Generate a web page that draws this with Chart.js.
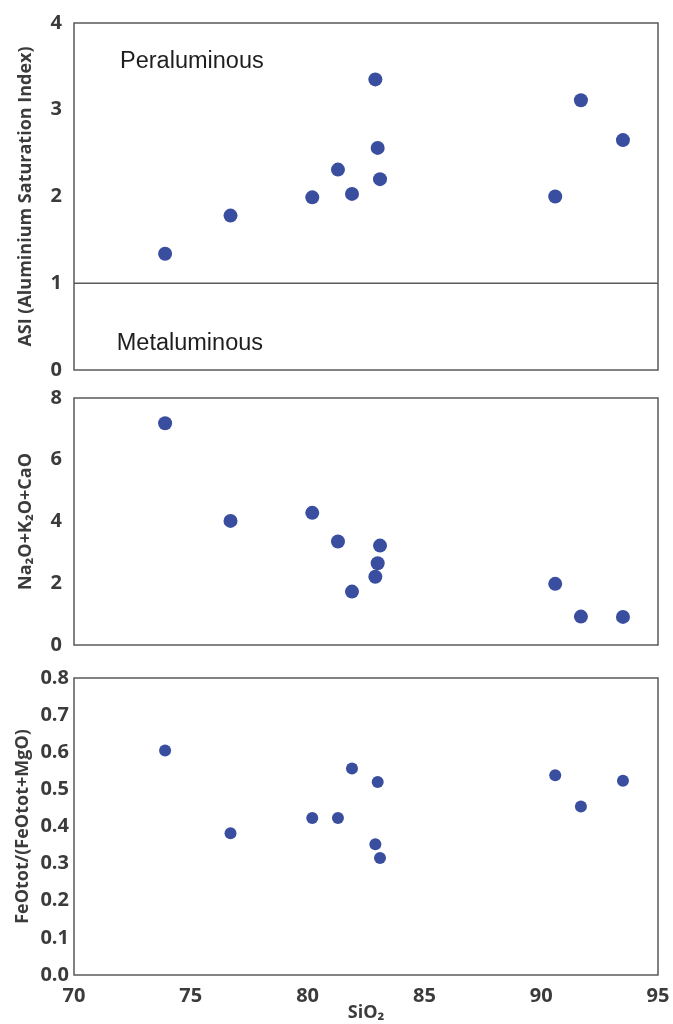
<!DOCTYPE html>
<html>
<head>
<meta charset="utf-8">
<script src="https://cdn.jsdelivr.net/npm/chart.js@4.4.1/dist/chart.umd.min.js"></script>
<style>
  html, body { margin: 0; padding: 0; background: #ffffff; }
  body { width: 673px; height: 1024px; position: relative; overflow: hidden; }
  canvas { position: absolute; left: 0; }
</style>
</head>
<body>
<canvas id="c1" width="673" height="380" style="top:0px"></canvas>
<canvas id="c2" width="673" height="275" style="top:380px"></canvas>
<canvas id="c3" width="673" height="369" style="top:655px"></canvas>
<script>
// ---- Data ----
const sio2 = [73.9, 76.7, 80.2, 81.3, 81.9, 82.9, 83.0, 83.1, 90.6, 91.7, 93.5];
const asi = [1.34, 1.78, 1.99, 2.31, 2.03, 3.35, 2.56, 2.20, 2.00, 3.11, 2.65];
const alkCa = [7.18, 4.02, 4.28, 3.35, 1.73, 2.21, 2.65, 3.22, 1.98, 0.92, 0.91];
const feRatio = [0.605, 0.382, 0.423, 0.423, 0.556, 0.352, 0.520, 0.315, 0.538, 0.454, 0.523];
const xRange = [70, 95];
const asiTicks = [0, 4, 1];
const alkTicks = [0, 8, 2];
const feTicks = [0, 0.8, 0.1];
const asiBoundary = 1;
const regionLabels = [
  { text: 'Peraluminous', x: 71.97, y: 3.48 },
  { text: 'Metaluminous', x: 71.83, y: 0.23 }
];
const yTitles = ['ASI (Aluminium Saturation Index)', 'Na\u2082O+K\u2082O+CaO', 'FeOtot/(FeOtot+MgO)'];
const xTitle = 'SiO\u2082';

// ---- Styling ----
const dotColor = '#3A4E9F';
const textColor = '#3b3b3b';
const boxColor = '#5a5a5a';
const tickFont = { family: "'Open Sans', sans-serif", size: 20, weight: 'bold' };
const titleFont = { family: "'Open Sans', 'DejaVu Sans', sans-serif", size: 18, weight: 'bold' };

const boxPlugin = {
  id: 'box',
  afterDatasetsDraw(chart) {
    const a = chart.chartArea;
    const ctx = chart.ctx;
    ctx.save();
    ctx.strokeStyle = boxColor;
    ctx.lineWidth = 1.5;
    ctx.strokeRect(a.left, a.top, a.right - a.left, a.bottom - a.top);
    ctx.restore();
  }
};

const labelPlugin = {
  id: 'regionLabels',
  afterDatasetsDraw(chart, args, opts) {
    if (!opts || !opts.items) return;
    const ctx = chart.ctx;
    ctx.save();
    ctx.fillStyle = '#1e1e1e';
    ctx.font = "23.5px 'Liberation Sans', Arial, sans-serif";
    ctx.textAlign = 'left';
    ctx.textBaseline = 'alphabetic';
    opts.items.forEach(it => {
      ctx.fillText(it.text, chart.scales.x.getPixelForValue(it.x), chart.scales.y.getPixelForValue(it.y));
    });
    ctx.restore();
  }
};

function makeChart(id, yVals, ticks, cfg) {
  const datasets = [{
    type: 'scatter',
    data: sio2.map((x, i) => ({ x: x, y: yVals[i] })),
    backgroundColor: dotColor,
    borderColor: dotColor,
    borderWidth: 0,
    pointRadius: cfg.radius,
    pointHoverRadius: cfg.radius
  }];
  if (cfg.boundary !== undefined) {
    datasets.push({
      type: 'line',
      data: [{ x: xRange[0], y: cfg.boundary }, { x: xRange[1], y: cfg.boundary }],
      borderColor: boxColor,
      borderWidth: 1.5,
      pointRadius: 0,
      fill: false
    });
  }
  return new Chart(document.getElementById(id), {
    type: 'scatter',
    data: { datasets },
    plugins: [boxPlugin, labelPlugin],
    options: {
      responsive: false,
      animation: false,
      events: [],
      layout: { padding: cfg.padding },
      plugins: {
        legend: { display: false },
        tooltip: { enabled: false },
        regionLabels: { items: cfg.labels || [] }
      },
      scales: {
        x: {
          type: 'linear',
          min: xRange[0], max: xRange[1],
          display: cfg.showX,
          grid: { display: false, drawTicks: false },
          border: { display: false },
          ticks: { stepSize: 5, color: textColor, font: tickFont, padding: 9, maxRotation: 0 },
          title: { display: cfg.showX, text: xTitle, color: textColor, font: titleFont, padding: { top: 0, bottom: 0 } },
          afterFit(s) {
            s.paddingLeft = 0; s.paddingRight = 0;
            if (cfg.showX) s.height = cfg.xHeight;
          }
        },
        y: {
          type: 'linear',
          min: ticks[0], max: ticks[1],
          grid: { display: false, drawTicks: false },
          border: { display: false },
          ticks: {
            stepSize: ticks[2], color: textColor, font: tickFont, padding: cfg.tickPad,
            callback: v => cfg.fmt(v)
          },
          title: { display: true, text: cfg.title, color: textColor, font: titleFont, padding: { top: cfg.titlePad, bottom: 0 } },
          afterFit(s) { s.width = 74; s.paddingTop = 0; s.paddingBottom = 0; }
        }
      }
    }
  });
}

makeChart('c1', asi, asiTicks, {
  radius: 7, showX: false, boundary: asiBoundary, labels: regionLabels,
  padding: { top: 23, right: 15, bottom: 10, left: 0 },
  tickPad: 12, titlePad: 15, title: yTitles[0], fmt: v => String(Math.round(v))
});
makeChart('c2', alkCa, alkTicks, {
  radius: 7, showX: false,
  padding: { top: 18, right: 15, bottom: 10, left: 0 },
  tickPad: 12, titlePad: 15, title: yTitles[1], fmt: v => String(Math.round(v))
});
makeChart('c3', feRatio, feTicks, {
  radius: 6, showX: true, xHeight: 49,
  padding: { top: 23, right: 15, bottom: 0, left: 0 },
  tickPad: 5, titlePad: 12, title: yTitles[2], fmt: v => v.toFixed(1)
});
</script>
</body>
</html>
